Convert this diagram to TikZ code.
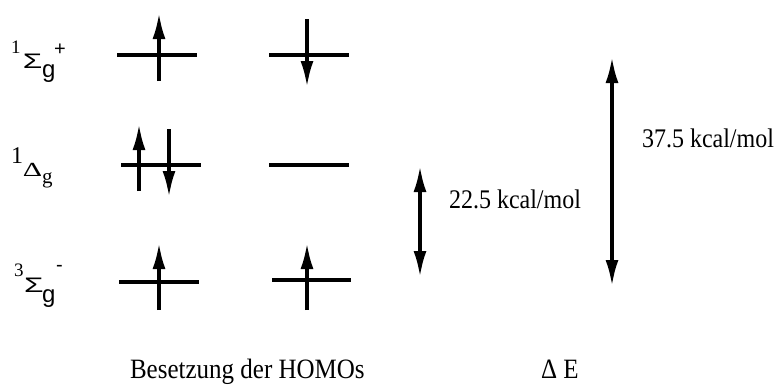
\documentclass[tikz,border=0pt]{standalone}
\usepackage{fontspec}
\setmainfont{Liberation Serif}
\newfontfamily\sansf{Liberation Sans}
\usetikzlibrary{arrows.meta}
\tikzset{
  level/.style={line width=3.4pt},
  spin/.style={line width=3.4pt,-{Latex[length=26pt,width=13pt]}},
  gap/.style={line width=3.4pt,{Latex[length=26pt,width=13pt]}-{Latex[length=26pt,width=13pt]}},
  lbl/.style={anchor=base west,inner sep=0pt,outer sep=0pt}
}
\newcommand{\fsz}[1]{\fontsize{#1}{#1}\selectfont}
\newcommand{\wide}[1]{\scalebox{1.5}[1]{#1}}
\newcommand{\tall}[1]{\scalebox{1}[1.12]{#1}}
\begin{document}
\begin{tikzpicture}[x=1pt,y=-1pt]
\useasboundingbox (0,0) rectangle (776,391);
% state label 1
\node[lbl] (s1a) at (11,53) {\fsz{19}1};
\node[lbl] (s1b) at (23,68) {\sansf\fsz{21}\wide{Σ}};
\node[lbl] (s1c) at (42,77.5) {\sansf\fsz{24}g};
\node[lbl] (s1d) at (54,55) {\sansf\fsz{20}+};
% state label 2
\node[lbl] (s2a) at (11,163) {\fsz{24}1};
\node[lbl] (s2b) at (23,176) {\fsz{20}\wide{Δ}};
\node[lbl] (s2c) at (42,183) {\fsz{21}g};
% state label 3
\node[lbl] (s3a) at (14,276) {\fsz{19}3};
\node[lbl] (s3b) at (24,292) {\sansf\fsz{21}\wide{Σ}};
\node[lbl] (s3c) at (42,302.5) {\sansf\fsz{24}g};
\node[lbl] (s3d) at (56,271) {\sansf\fsz{20}-};
% row 1
\coordinate (a1) at (117,55); \coordinate (b1) at (197,55);
\coordinate (c1) at (269,55); \coordinate (d1) at (349,55);
\draw[level] (a1) -- (b1);
\draw[level] (c1) -- (d1);
\coordinate (u1s) at (159,81); \coordinate (u1e) at (159,13);
\draw[spin] (u1s) -- (u1e);
\coordinate (d1s) at (307,19); \coordinate (d1e) at (307,87);
\draw[spin] (d1s) -- (d1e);
% row 2
\coordinate (a2) at (121,165); \coordinate (b2) at (201,165);
\coordinate (c2) at (269,165); \coordinate (d2) at (349,165);
\draw[level] (a2) -- (b2);
\draw[level] (c2) -- (d2);
\coordinate (u2s) at (139,191); \coordinate (u2e) at (139,124);
\draw[spin] (u2s) -- (u2e);
\coordinate (d2s) at (169,129); \coordinate (d2e) at (169,197);
\draw[spin] (d2s) -- (d2e);
% row 3
\coordinate (a3) at (119,282); \coordinate (b3) at (199,282);
\coordinate (c3) at (272,280); \coordinate (d3) at (351,280);
\draw[level] (a3) -- (b3);
\draw[level] (c3) -- (d3);
\coordinate (u3s) at (159,310); \coordinate (u3e) at (159,243);
\draw[spin] (u3s) -- (u3e);
\coordinate (v3s) at (307,310); \coordinate (v3e) at (307,243);
\draw[spin] (v3s) -- (v3e);
% energy gaps
\coordinate (g1t) at (420,166); \coordinate (g1b) at (420,277);
\draw[gap] (g1t) -- (g1b);
\coordinate (g2t) at (612,57); \coordinate (g2b) at (612,286);
\draw[gap] (g2t) -- (g2b);
\node[lbl] (e1) at (449,208) {\fsz{24}\tall{22.5 kcal/mol}};
\node[lbl] (e2) at (642,147) {\fsz{24}\tall{37.5 kcal/mol}};
% captions
\node[lbl] (cap1) at (130,378) {\fsz{25}\tall{Besetzung der HOMOs}};
\node[lbl] (cap2) at (541,378) {\fsz{25}\tall{Δ E}};
\end{tikzpicture}
\end{document}
